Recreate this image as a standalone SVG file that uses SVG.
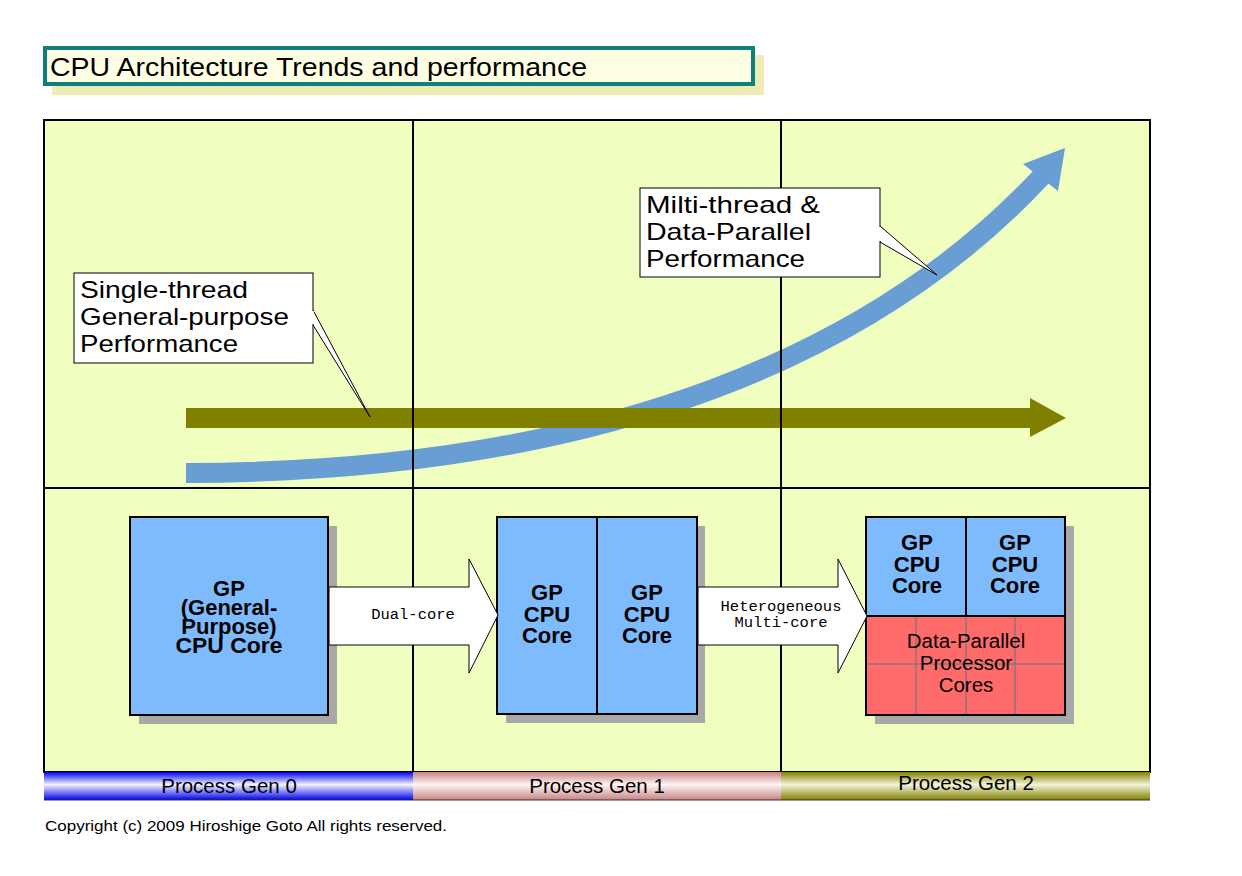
<svg xmlns="http://www.w3.org/2000/svg" width="1242" height="876" viewBox="0 0 1242 876">
<defs>
<linearGradient id="gBlue" x1="0" y1="0" x2="0" y2="1">
<stop offset="0" stop-color="#0000F0"/><stop offset="0.45" stop-color="#F4F4FF"/><stop offset="1" stop-color="#0000F0"/>
</linearGradient>
<linearGradient id="gPink" x1="0" y1="0" x2="0" y2="1">
<stop offset="0" stop-color="#C88484"/><stop offset="0.45" stop-color="#FFF4F4"/><stop offset="1" stop-color="#C88484"/>
</linearGradient>
<linearGradient id="gOlive" x1="0" y1="0" x2="0" y2="1">
<stop offset="0" stop-color="#808000"/><stop offset="0.45" stop-color="#F4F4DC"/><stop offset="1" stop-color="#808000"/>
</linearGradient>
</defs>
<style>
.sans{font-family:"Liberation Sans",Arial,sans-serif;fill:#000}
.mono{font-family:"Liberation Mono","Courier New",monospace;fill:#000;font-size:15.5px;text-anchor:middle}
.bold{font-family:"Liberation Sans",Arial,sans-serif;font-weight:bold;font-size:22px;text-anchor:middle;fill:#000}
.call{font-family:"Liberation Sans",Arial,sans-serif;font-size:24px;fill:#000}
.proc{font-family:"Liberation Sans",Arial,sans-serif;font-size:20.5px;text-anchor:middle;fill:#000}
.grid{stroke:#000;stroke-width:2;fill:none}
.core{fill:#7DBBFD;stroke:#000;stroke-width:2}
.shadow{fill:#A8A8A8}
.blk{fill:#fff;stroke:#000;stroke-width:1}
.dp{stroke:#8E7474;stroke-width:1.5}
</style>
<rect width="1242" height="876" fill="#fff"/>

<g id="title">
<rect x="52" y="55" width="712" height="40" fill="#EEEBB4"/>
<rect x="45" y="48" width="708" height="36" fill="#FFFFE4" stroke="#0E7F7A" stroke-width="4"/>
<text class="sans" x="50" y="76" font-size="25" textLength="537" lengthAdjust="spacingAndGlyphs">CPU Architecture Trends and performance</text>
</g>

<g id="panel">
<rect x="44" y="120" width="1106" height="652" fill="#F0FFC0"/>
</g>

<g id="trends">
<path d="M186,473 C610,472 880,350 1042,176" fill="none" stroke="#699ED4" stroke-width="20"/>
<polygon points="1023,164 1065,148 1058,191" fill="#699ED4"/>
<polygon points="186,408 1030,408 1030,398 1066,418 1030,437 1030,428 186,428" fill="#808000"/>
</g>

<g id="grid">
<rect x="44" y="120" width="1106" height="652" class="grid"/>
<line x1="413" y1="120" x2="413" y2="772" class="grid"/>
<line x1="781" y1="120" x2="781" y2="772" class="grid"/>
<line x1="44" y1="488" x2="1150" y2="488" class="grid"/>
</g>

<g id="callout-single">
<polygon points="313,310 370,417 313,325" fill="#fff" stroke="#000" stroke-width="1"/>
<rect x="74" y="273" width="239" height="90" fill="#fff" stroke="#000" stroke-width="1"/>
<rect x="312" y="311" width="2" height="13" fill="#fff"/>
<text class="call" x="80" y="298" textLength="168" lengthAdjust="spacingAndGlyphs">Single-thread</text>
<text class="call" x="80" y="325" textLength="209" lengthAdjust="spacingAndGlyphs">General-purpose</text>
<text class="call" x="80" y="352" textLength="158" lengthAdjust="spacingAndGlyphs">Performance</text>
</g>

<g id="callout-multi">
<polygon points="880,226 937,275 880,242" fill="#fff" stroke="#000" stroke-width="1"/>
<rect x="640" y="188" width="240" height="89" fill="#fff" stroke="#000" stroke-width="1"/>
<rect x="879" y="227" width="2" height="14" fill="#fff"/>
<text class="call" x="646" y="213" textLength="174" lengthAdjust="spacingAndGlyphs">Milti-thread &amp;</text>
<text class="call" x="646" y="240" textLength="165" lengthAdjust="spacingAndGlyphs">Data-Parallel</text>
<text class="call" x="646" y="267" textLength="159" lengthAdjust="spacingAndGlyphs">Performance</text>
</g>

<g id="gen0-core">
<rect x="139" y="526" width="198" height="198" class="shadow"/>
<rect x="130" y="517" width="198" height="198" class="core"/>
<text class="bold" x="229" y="596">GP</text>
<text class="bold" x="229" y="615">(General-</text>
<text class="bold" x="229" y="634">Purpose)</text>
<text class="bold" x="229" y="653" textLength="107" lengthAdjust="spacingAndGlyphs">CPU Core</text>
</g>

<g id="gen1-cores">
<rect x="506" y="526" width="199" height="197" class="shadow"/>
<rect x="497" y="517" width="200" height="197" class="core"/>
<line x1="597" y1="517" x2="597" y2="714" stroke="#000" stroke-width="2"/>
<text class="bold" x="547" y="600">GP</text>
<text class="bold" x="547" y="622">CPU</text>
<text class="bold" x="547" y="643">Core</text>
<text class="bold" x="647" y="600">GP</text>
<text class="bold" x="647" y="622">CPU</text>
<text class="bold" x="647" y="643">Core</text>
</g>

<g id="gen2-hetero">
<rect x="875" y="526" width="199" height="198" class="shadow"/>
<rect x="866" y="517" width="199" height="99" fill="#7DBBFD"/>
<rect x="866" y="616" width="199" height="99" fill="#FF6B6B"/>
<line x1="916" y1="616" x2="916" y2="715" class="dp"/>
<line x1="966" y1="616" x2="966" y2="715" class="dp"/>
<line x1="1015" y1="616" x2="1015" y2="715" class="dp"/>
<line x1="866" y1="664" x2="1065" y2="664" class="dp"/>
<line x1="966" y1="517" x2="966" y2="616" stroke="#000" stroke-width="2"/>
<line x1="866" y1="616" x2="1065" y2="616" stroke="#000" stroke-width="2"/>
<rect x="866" y="517" width="199" height="198" fill="none" stroke="#000" stroke-width="2"/>
<text class="bold" x="917" y="550">GP</text>
<text class="bold" x="917" y="572">CPU</text>
<text class="bold" x="917" y="593">Core</text>
<text class="bold" x="1015" y="550">GP</text>
<text class="bold" x="1015" y="572">CPU</text>
<text class="bold" x="1015" y="593">Core</text>
<text class="proc" x="966" y="648">Data-Parallel</text>
<text class="proc" x="966" y="670">Processor</text>
<text class="proc" x="966" y="692">Cores</text>
</g>

<g id="connectors">
<polygon class="blk" points="329,587 469,587 469,559 498,615 469,673 469,645 329,645"/>
<text class="mono" x="413" y="619">Dual-core</text>
<polygon class="blk" points="698,587 838,587 838,559 867,616 838,673 838,645 698,645"/>
<text class="mono" x="781" y="611">Heterogeneous</text>
<text class="mono" x="781" y="627">Multi-core</text>
</g>

<g id="process-bar">
<rect x="44" y="772" width="369" height="28" fill="url(#gBlue)"/>
<rect x="413" y="772" width="368" height="28" fill="url(#gPink)"/>
<rect x="781" y="772" width="369" height="28" fill="url(#gOlive)"/>
<line x1="44" y1="800" x2="1150" y2="800" stroke="#333" stroke-width="1"/>
<text class="proc" x="229" y="793">Process Gen 0</text>
<text class="proc" x="597" y="793">Process Gen 1</text>
<text class="proc" x="966" y="790">Process Gen 2</text>
</g>

<text class="sans" x="45" y="831" font-size="14" textLength="402" lengthAdjust="spacingAndGlyphs">Copyright (c) 2009 Hiroshige Goto All rights reserved.</text>
</svg>
